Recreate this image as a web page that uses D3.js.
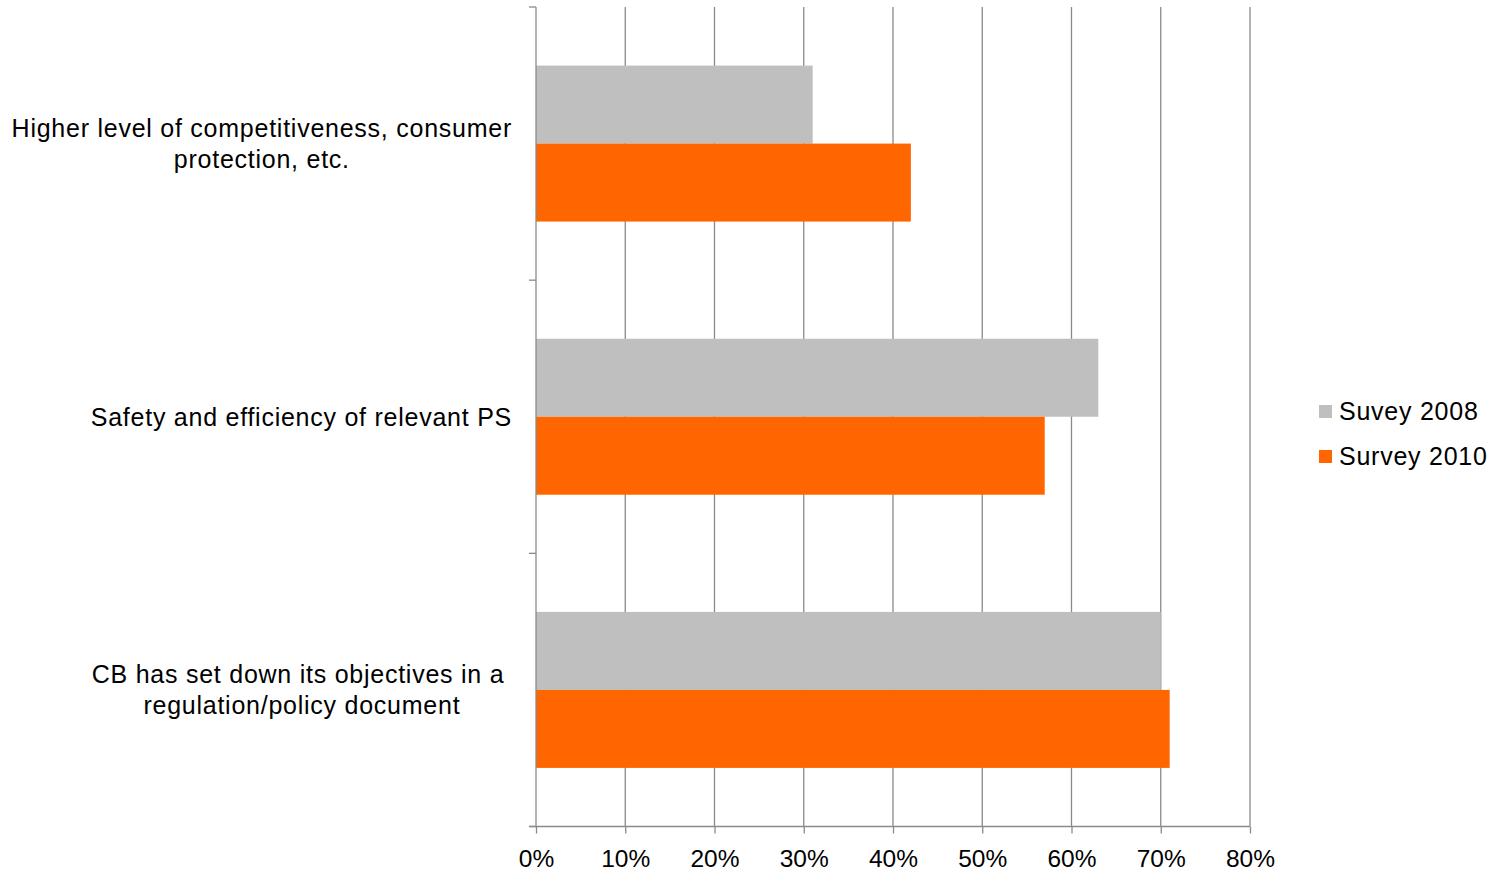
<!DOCTYPE html>
<html><head><meta charset="utf-8">
<script src="https://cdn.jsdelivr.net/npm/d3@7"></script>
<style>
html,body{margin:0;padding:0;background:#fff;}
svg{display:block;font-family:"Liberation Sans",Arial,sans-serif;}
</style></head>
<body>
<svg id="c" width="1499" height="872"></svg>
<script>
const categories = [
  ["Higher level of competitiveness, consumer", "protection, etc."],
  ["Safety and efficiency of relevant PS"],
  ["CB has set down its objectives in a ", "regulation/policy document"]
];
const seriesNames = ["Suvey 2008", "Survey 2010"];
const survey2008 = [0.31, 0.63, 0.70];
const survey2010 = [0.42, 0.57, 0.71];
const tickValues = [0,0.1,0.2,0.3,0.4,0.5,0.6,0.7,0.8];
const colors = ["#BFBFBF", "#FF6600"];

(function(){
const svg = d3.select("#c");
const pLeft = 536, pRight = 1250, pTop = 7, pBottom = 826.5;
const fontSize = 25, tickFont = 24.5, ls = "0.75px";

const x = d3.scaleLinear().domain([0, 0.8]).range([pLeft, pRight]);
const catIdx = categories.map((d,i)=>i);
const y0 = d3.scaleBand().domain(catIdx).range([pTop, pBottom]).paddingInner(0.429).paddingOuter(0.2145);
const y1 = d3.scaleBand().domain([0,1]).range([0, y0.bandwidth()]);

// gridlines
svg.append("g").selectAll("line").data(tickValues.slice(1)).join("line")
  .attr("x1", d=>x(d)).attr("x2", d=>x(d)).attr("y1", pTop).attr("y2", pBottom)
  .attr("stroke", "#8a8a8a").attr("stroke-width", 1.3);

// bars
const series = [survey2008, survey2010];
const g = svg.append("g");
series.forEach((vals, s) => {
  g.selectAll("rect.s"+s).data(vals).join("rect")
    .attr("class","s"+s)
    .attr("x", x(0))
    .attr("y", (d,i)=>y0(i)+y1(s))
    .attr("width", d=>x(d)-x(0))
    .attr("height", y1.bandwidth())
    .attr("fill", colors[s]);
});

// x axis
const xAxis = d3.axisBottom(x).tickValues(tickValues).tickFormat(d3.format(".0%")).tickSize(7).tickSizeOuter(0);
const gx = svg.append("g").attr("transform", `translate(0,${pBottom})`).call(xAxis);
gx.select(".domain").remove();
gx.append("line").attr("x1", pLeft-7).attr("x2", pRight).attr("y1",0).attr("y2",0).attr("stroke","#8a8a8a").attr("stroke-width",1.3);
gx.selectAll(".tick line").attr("stroke","#8a8a8a").attr("stroke-width",1.3);
gx.selectAll(".tick text").attr("font-size", tickFont).attr("font-family","Liberation Sans, Arial, sans-serif").attr("fill","#000").attr("dy", null).attr("y", 40);

// y axis line and ticks
const ga = svg.append("g");
ga.append("line").attr("x1", pLeft).attr("x2", pLeft).attr("y1", pTop).attr("y2", pBottom).attr("stroke","#8a8a8a").attr("stroke-width",1.3);
const step = (pBottom-pTop)/categories.length;
ga.selectAll("line.t").data(d3.range(categories.length+1)).join("line").attr("class","t")
  .attr("x1", pLeft-7).attr("x2", pLeft).attr("y1", i=>pTop+i*step).attr("y2", i=>pTop+i*step)
  .attr("stroke","#8a8a8a").attr("stroke-width",1.3);

// category labels
const lineH = 31;
const labelRight = 512;
categories.forEach((lines, i) => {
  const cy = y0(i) + y0.bandwidth()/2;
  const gl = svg.append("g");
  const texts = lines.map((t, k) => gl.append("text").text(t)
    .attr("font-size", fontSize).attr("fill","#000")
    .style("white-space","pre").style("letter-spacing", ls)
    .attr("dominant-baseline","central")
    .attr("text-anchor","middle")
    .attr("y", cy + (k - (lines.length-1)/2)*lineH));
  const widths = texts.map(t=>t.node().getComputedTextLength());
  const bw = d3.max(widths);
  texts.forEach(t => t.attr("x", labelRight - bw/2));
});

// legend
const lg = svg.append("g");
seriesNames.forEach((n, s) => {
  const ly = 411 + s*45;
  lg.append("rect").attr("x", 1319).attr("y", ly-6).attr("width", 13).attr("height", 13).attr("fill", colors[s]);
  lg.append("text").attr("x", 1339).attr("y", ly).attr("dominant-baseline","central")
    .attr("font-size", fontSize).style("letter-spacing", ls).attr("fill","#000").text(n);
});
})();
</script>
</body></html>
